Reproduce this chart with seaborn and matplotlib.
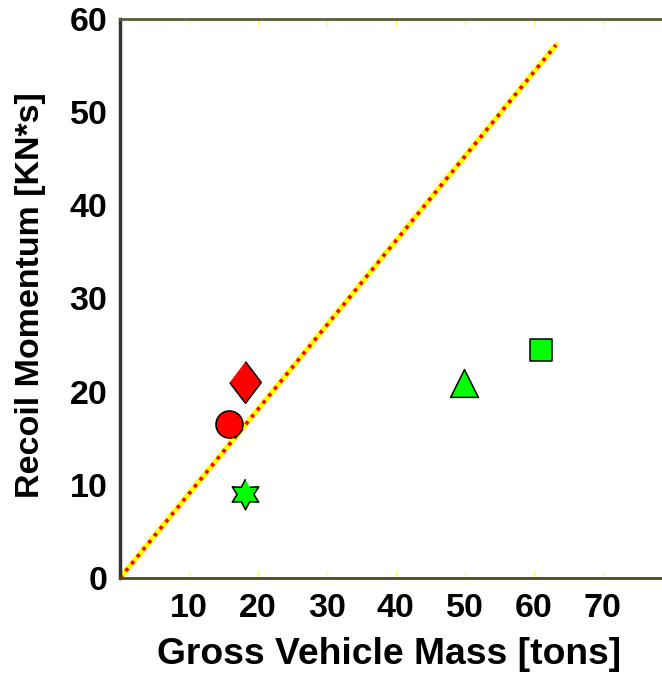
import numpy as np
import pandas as pd
import matplotlib
matplotlib.use("Agg")
import matplotlib.pyplot as plt
import seaborn as sns

# data
mass = [15.8, 18.1, 18.1, 49.9, 61.0]
momentum = [16.5, 21.0, 9.0, 20.9, 24.5]
colors = ["#ff0000", "#ff0000", "#00ff00", "#00ff00", "#00ff00"]
sizes = [19.5, 30, 22, 20, 16]

line_x = [0, 63.2]
line_y = [0, 57.2]

xticks = [10, 20, 30, 40, 50, 60, 70]
yticks = [0, 10, 20, 30, 40, 50, 60]

# six-pointed star marker and a tall diamond
ang = np.deg2rad(np.arange(12) * 30 + 90)
rad = np.where(np.arange(12) % 2 == 0, 1.0, 0.55)
hexagram = list(zip(rad * np.cos(ang), rad * np.sin(ang)))
tall_diamond = [(0, 1), (0.76, 0), (0, -1), (-0.76, 0)]
markers = ["o", tall_diamond, hexagram, "^", "s"]

sns.set_style("white")
plt.rcParams["font.family"] = ["Liberation Sans", "DejaVu Sans"]
plt.rcParams["text.color"] = "black"
plt.rcParams["axes.labelcolor"] = "black"
plt.rcParams["xtick.labelcolor"] = "black"
plt.rcParams["ytick.labelcolor"] = "black"

fig = plt.figure(figsize=(6.62, 6.73), dpi=100)
ax = fig.add_axes([120 / 662, 1 - 578 / 673, 560 / 662, (578 - 19) / 673])

# reference line, yellow with red dashes
sns.lineplot(x=line_x, y=line_y, ax=ax, color="#ffff00", linewidth=4)
sns.lineplot(x=line_x, y=line_y, ax=ax, color="#ff0000", linewidth=2.6,
             linestyle=(0, (1, 1.5)))

df = pd.DataFrame({"mass": mass, "momentum": momentum})
for i in range(len(df)):
    sns.scatterplot(x=[df.mass[i]], y=[df.momentum[i]], ax=ax,
                    marker=markers[i], s=sizes[i] ** 2, color=colors[i],
                    edgecolor="black", linewidth=1.1, zorder=5)

ax.set_xlim(0, 81.2)
ax.set_ylim(0, 60)
ax.set_xticks(xticks)
ax.set_yticks(yticks)
ax.tick_params(axis="x", direction="in", length=5, width=1, color="#ffff66",
               top=True, bottom=True, labelsize=24.5, pad=11)
ax.tick_params(axis="y", direction="out", length=5, width=1, color="#ffff66",
               labelsize=24.5, pad=4)
for lab in ax.get_xticklabels() + ax.get_yticklabels():
    lab.set_fontweight("bold")

ax.spines["left"].set_color("#333333")
ax.spines["left"].set_linewidth(2.5)
ax.spines["top"].set_color("#5a5a3a")
ax.spines["top"].set_linewidth(2)
ax.spines["bottom"].set_color("#4a4a20")
ax.spines["bottom"].set_linewidth(2)
ax.spines["right"].set_visible(False)

ax.set_xlabel("Gross Vehicle Mass [tons]", fontsize=26.8, fontweight="bold")
ax.set_ylabel("Recoil Momentum [KN*s]", fontsize=24.5, fontweight="bold")
ax.xaxis.set_label_coords((389 - 120) / 560, -(655 - 578) / 559)
ax.yaxis.set_label_coords(-(120 - 30) / 560, (578 - 295) / 559)
ax.xaxis.label.set_va("center")
ax.yaxis.label.set_va("center")

fig.savefig("out.png", dpi=100)
